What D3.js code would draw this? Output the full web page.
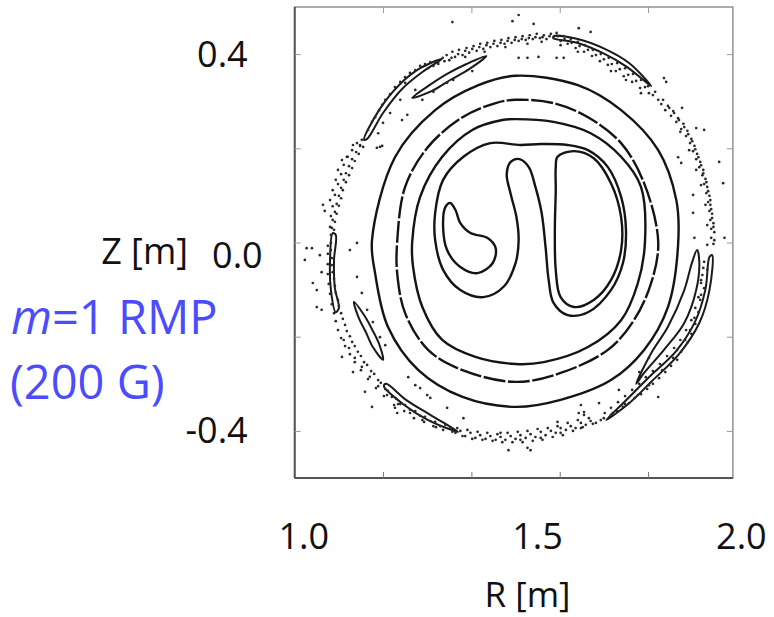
<!DOCTYPE html>
<html><head><meta charset="utf-8">
<script src="https://cdn.jsdelivr.net/npm/d3@7"></script>
<style>body{margin:0;background:#fff}svg{display:block}</style>
</head><body><svg id="c" width="774" height="617"></svg>
<script>
// ---- axes data ----
const rTicks = [1.2, 1.4, 1.6, 1.8];
const zTicks = [-0.4, -0.2, 0.0, 0.2, 0.4];
const rLabels = [1.0, 1.5, 2.0];
const zLabels = [0.4, 0.0, -0.4];
const frameR = [1.0, 1.992];
const frameZ = [-0.5, 0.5];

// ---- closed flux surfaces (R [m], Z [m]) ----
const ringA = [[1.175,0.005],[1.182,-0.065],[1.211,-0.179],[1.280,-0.271],[1.380,-0.328],[1.500,-0.349],[1.602,-0.334],[1.716,-0.292],[1.791,-0.228],[1.845,-0.137],[1.868,-0.005],[1.864,0.090],[1.823,0.196],[1.739,0.281],[1.641,0.334],[1.500,0.354],[1.416,0.334],[1.318,0.281],[1.227,0.181]];
const ringB = [[1.232,0.001],[1.232,-0.065],[1.250,-0.150],[1.302,-0.228],[1.380,-0.271],[1.500,-0.296],[1.602,-0.277],[1.709,-0.228],[1.768,-0.165],[1.807,-0.086],[1.823,0.001],[1.791,0.126],[1.739,0.211],[1.664,0.266],[1.586,0.296],[1.500,0.303],[1.455,0.296],[1.380,0.266],[1.302,0.203],[1.250,0.118]];
const ringC = [[1.266,0.001],[1.268,-0.052],[1.289,-0.137],[1.334,-0.207],[1.409,-0.243],[1.500,-0.258],[1.564,-0.254],[1.664,-0.222],[1.739,-0.165],[1.777,-0.086],[1.793,0.001],[1.784,0.118],[1.739,0.182],[1.670,0.232],[1.586,0.256],[1.500,0.262],[1.470,0.260],[1.402,0.239],[1.334,0.182],[1.284,0.097]];
const separatrix = [[1.443,0.211],[1.511,0.207],[1.557,0.209],[1.618,0.207],[1.664,0.196],[1.709,0.160],[1.739,0.097],[1.750,0.027],[1.743,-0.044],[1.716,-0.101],[1.664,-0.148],[1.618,-0.154],[1.586,-0.128],[1.575,-0.080],[1.568,-0.010],[1.559,0.063],[1.545,0.118],[1.530,0.160],[1.509,0.177],[1.489,0.171],[1.480,0.145],[1.489,0.103],[1.502,0.054],[1.507,0.005],[1.500,-0.044],[1.473,-0.094],[1.427,-0.116],[1.375,-0.101],[1.336,-0.058],[1.318,0.005],[1.318,0.063],[1.336,0.133],[1.382,0.182]];
const innerD = [[1.595,0.182],[1.632,0.194],[1.677,0.179],[1.716,0.126],[1.739,0.054],[1.739,-0.016],[1.716,-0.080],[1.677,-0.122],[1.632,-0.137],[1.602,-0.116],[1.591,-0.058],[1.589,0.027],[1.591,0.111],[1.591,0.160]];
const kidney = [[1.352,0.084],[1.364,0.069],[1.375,0.041],[1.398,0.020],[1.436,0.010],[1.455,-0.012],[1.448,-0.044],[1.414,-0.065],[1.375,-0.052],[1.345,-0.016],[1.336,0.033],[1.341,0.075]];

// ---- edge islands ----
const islandTL = [[1.266,0.307],[1.305,0.334],[1.345,0.358],[1.389,0.379],[1.434,0.396],[1.395,0.368],[1.352,0.345],[1.311,0.322]];
const islandBL = [[1.134,-0.126],[1.157,-0.154],[1.175,-0.184],[1.191,-0.215],[1.200,-0.249],[1.177,-0.222],[1.161,-0.190],[1.145,-0.160]];
const arcTL = [[1.157,0.218],[1.191,0.281],[1.236,0.334],[1.284,0.370],[1.334,0.390],[1.289,0.362],[1.243,0.326],[1.200,0.275],[1.164,0.220]];
const arcTR = [[1.586,0.438],[1.641,0.432],[1.702,0.411],[1.757,0.381],[1.807,0.332],[1.752,0.373],[1.698,0.402],[1.639,0.424],[1.586,0.434]];
const arcR1 = [[1.911,-0.016],[1.916,-0.041],[1.909,-0.101],[1.882,-0.171],[1.836,-0.228],[1.791,-0.277],[1.773,-0.300],[1.807,-0.235],[1.845,-0.179],[1.882,-0.101],[1.900,-0.041]];
const arcR2 = [[1.945,-0.027],[1.939,-0.101],[1.916,-0.171],[1.870,-0.237],[1.809,-0.294],[1.755,-0.343],[1.705,-0.377],[1.748,-0.337],[1.802,-0.286],[1.864,-0.230],[1.907,-0.167],[1.930,-0.099],[1.939,-0.031]];
const arcL = [[1.086,0.020],[1.080,-0.037],[1.082,-0.101],[1.093,-0.148],[1.100,-0.139],[1.091,-0.097],[1.089,-0.037],[1.093,0.016]];
const arcBL = [[1.202,-0.305],[1.248,-0.345],[1.302,-0.377],[1.370,-0.402],[1.307,-0.366],[1.252,-0.334],[1.207,-0.300]];

// ---- stochastic edge points ----
const chaosTop = [[1.325,0.383],[1.335,0.392],[1.344,0.398],[1.350,0.387],[1.357,0.405],[1.363,0.394],[1.372,0.409],[1.380,0.398],[1.389,0.413],[1.395,0.403],[1.405,0.417],[1.412,0.407],[1.420,0.422],[1.427,0.411],[1.436,0.424],[1.443,0.415],[1.452,0.428],[1.459,0.417],[1.468,0.430],[1.475,0.422],[1.484,0.434],[1.491,0.424],[1.500,0.436],[1.507,0.428],[1.516,0.438],[1.523,0.430],[1.532,0.440],[1.539,0.432],[1.548,0.443],[1.555,0.434],[1.564,0.440],[1.570,0.432],[1.580,0.443],[1.586,0.434],[1.595,0.438],[1.602,0.428],[1.611,0.432],[1.618,0.422],[1.627,0.424],[1.636,0.413],[1.645,0.417],[1.655,0.405],[1.664,0.409],[1.673,0.396],[1.682,0.398],[1.691,0.385],[1.700,0.389],[1.709,0.377],[1.718,0.379],[1.727,0.364],[1.736,0.368],[1.745,0.353],[1.755,0.356],[1.764,0.341],[1.773,0.343],[1.782,0.328],[1.793,0.330],[1.802,0.317],[1.811,0.313],[1.823,0.303],
[1.339,0.385],[1.355,0.392],[1.370,0.400],[1.386,0.407],[1.402,0.411],[1.418,0.415],[1.434,0.419],[1.450,0.422],[1.466,0.424],[1.482,0.428],[1.498,0.430],[1.514,0.432],[1.530,0.434],[1.545,0.436],[1.561,0.436],[1.577,0.438],[1.593,0.445],[1.609,0.438],[1.625,0.432],[1.641,0.426],[1.657,0.419],[1.675,0.409],[1.693,0.400],[1.711,0.392],[1.730,0.381],[1.748,0.370],[1.766,0.358],[1.784,0.345],[1.800,0.332],[1.816,0.320],[1.527,0.422],[1.559,0.426],[1.477,0.415],[1.430,0.405],[1.386,0.394],[1.602,0.419],[1.641,0.405],[1.716,0.364],[1.784,0.317],[1.750,0.345],
[1.357,0.468],[1.493,0.470],[1.507,0.483],[1.541,0.464],[1.643,0.455],[1.670,0.447],[1.507,0.392],[1.527,0.392],[1.552,0.394],[1.593,0.392],[1.609,0.392],[1.402,0.364],[1.359,0.345],[1.345,0.339],[1.314,0.320],[1.289,0.303],[1.255,0.271],[1.243,0.260],[1.836,0.349],[1.841,0.341],[1.877,0.286]];
const chaosRight = [[1.830,0.294],[1.839,0.281],[1.848,0.286],[1.852,0.269],[1.859,0.275],[1.864,0.256],[1.870,0.260],[1.875,0.241],[1.882,0.245],[1.886,0.226],[1.891,0.230],[1.895,0.211],[1.900,0.215],[1.902,0.194],[1.907,0.198],[1.909,0.177],[1.914,0.181],[1.916,0.160],[1.920,0.164],[1.923,0.143],[1.925,0.147],[1.927,0.124],[1.932,0.128],[1.932,0.105],[1.936,0.109],[1.936,0.086],[1.941,0.090],[1.939,0.067],[1.943,0.071],[1.941,0.048],[1.945,0.052],[1.943,0.029],[1.948,0.033],[1.943,0.010],[1.948,-0.003],
[1.834,0.303],[1.845,0.290],[1.857,0.279],[1.868,0.264],[1.880,0.252],[1.889,0.237],[1.898,0.220],[1.905,0.205],[1.911,0.188],[1.918,0.171],[1.925,0.154],[1.930,0.135],[1.934,0.118],[1.939,0.099],[1.941,0.080],[1.945,0.061],[1.948,0.041],[1.950,0.022],[1.950,0.005],[1.934,0.037],[1.930,0.080],[1.920,0.122],[1.909,0.154],[1.893,0.196],[1.873,0.235],
[1.909,0.243],[1.927,0.239],[1.961,0.171],[1.970,0.126],[1.902,0.101],[1.902,0.063],[1.905,0.010],[1.973,0.010],[1.868,0.181],[1.875,0.169],[1.934,-0.005],
[1.927,-0.041],[1.923,-0.069],[1.927,-0.097],[1.918,-0.122],[1.914,-0.148],[1.907,-0.173],[1.898,-0.194],[1.889,-0.213],[1.875,-0.232],[1.866,-0.249],[1.852,-0.262],[1.839,-0.275],[1.825,-0.288],[1.811,-0.300],[1.798,-0.311],[1.784,-0.322],[1.770,-0.330],[1.757,-0.341],[1.743,-0.349],[1.730,-0.358],[1.716,-0.366],[1.920,-0.111],[1.905,-0.160],[1.884,-0.207],[1.857,-0.245],[1.832,-0.271],[1.802,-0.303],[1.777,-0.324],[1.748,-0.343],[1.720,-0.362],[1.895,-0.186],[1.866,-0.228],
[1.925,-0.054],[1.920,-0.086],[1.914,-0.116],[1.907,-0.139],[1.898,-0.165],[1.886,-0.186],[1.873,-0.207],[1.859,-0.224],[1.843,-0.241],[1.827,-0.258],[1.811,-0.273],[1.795,-0.286],[1.780,-0.300],[1.764,-0.313],[1.748,-0.326],[1.732,-0.339],[1.716,-0.351],[1.702,-0.362],
[1.823,-0.328],[1.780,-0.275],[1.802,-0.245],[1.734,-0.313],[1.689,-0.341],[1.655,-0.360],[1.643,-0.362],[1.920,-0.080],[1.934,-0.058]];
const chaosBottom = [[1.693,-0.377],[1.682,-0.383],[1.670,-0.379],[1.659,-0.387],[1.648,-0.383],[1.636,-0.394],[1.625,-0.390],[1.614,-0.398],[1.602,-0.394],[1.591,-0.404],[1.580,-0.400],[1.568,-0.409],[1.557,-0.402],[1.545,-0.413],[1.534,-0.407],[1.523,-0.415],[1.511,-0.409],[1.500,-0.417],[1.489,-0.411],[1.477,-0.419],[1.466,-0.413],[1.455,-0.419],[1.443,-0.411],[1.432,-0.417],[1.420,-0.409],[1.409,-0.415],[1.398,-0.404],[1.386,-0.411],[1.375,-0.400],[1.364,-0.404],[1.557,-0.415],[1.511,-0.419],[1.466,-0.404],[1.602,-0.404],[1.648,-0.394],
[1.700,-0.373],[1.675,-0.385],[1.652,-0.392],[1.630,-0.400],[1.607,-0.409],[1.584,-0.413],[1.561,-0.419],[1.539,-0.421],[1.516,-0.424],[1.493,-0.424],[1.470,-0.424],[1.448,-0.421],[1.425,-0.419],[1.402,-0.417],[1.380,-0.411],[1.368,-0.394],[1.391,-0.398],[1.414,-0.402],[1.436,-0.404],[1.459,-0.407],[1.482,-0.404],[1.505,-0.402],[1.527,-0.400],[1.550,-0.396],[1.573,-0.394],[1.595,-0.390],[1.618,-0.383],[1.641,-0.377],[1.666,-0.373],
[1.484,-0.441],[1.527,-0.436],[1.534,-0.441],[1.345,-0.351],[1.382,-0.373],[1.595,-0.381],[1.655,-0.366],[1.648,-0.345]];
const chaosLeft = [[1.352,-0.394],[1.341,-0.387],[1.330,-0.390],[1.318,-0.381],[1.307,-0.379],[1.295,-0.370],[1.284,-0.368],[1.273,-0.358],[1.261,-0.355],[1.250,-0.345],[1.239,-0.343],[1.230,-0.332],[1.220,-0.328],[1.211,-0.315],[1.205,-0.311],[1.195,-0.298],[1.189,-0.292],[1.180,-0.279],[1.173,-0.273],[1.164,-0.260],[1.157,-0.254],[1.150,-0.241],[1.143,-0.232],[1.136,-0.220],[1.130,-0.211],[1.125,-0.199],[1.118,-0.188],[1.114,-0.175],[1.109,-0.162],[1.105,-0.150],[1.100,-0.135],[1.098,-0.122],[1.093,-0.107],[1.091,-0.092],[1.089,-0.077],[1.086,-0.063],[1.084,-0.048],[1.084,-0.033],[1.082,-0.016],[1.082,-0.001],[1.111,-0.207],[1.123,-0.224],[1.136,-0.245],[1.152,-0.264],[1.170,-0.285],[1.189,-0.305],[1.209,-0.324],[1.234,-0.343],[1.261,-0.362],[1.289,-0.377],[1.320,-0.392],
[1.357,-0.402],[1.336,-0.398],[1.314,-0.390],[1.293,-0.381],[1.270,-0.373],[1.248,-0.358],[1.225,-0.345],[1.202,-0.326],[1.184,-0.309],[1.166,-0.290],[1.150,-0.271],[1.136,-0.254],[1.125,-0.237],[1.114,-0.220],[1.105,-0.203],[1.098,-0.186],[1.093,-0.167],[1.089,-0.150],[1.084,-0.131],[1.080,-0.109],[1.077,-0.088],[1.075,-0.067],[1.075,-0.046],[1.075,-0.024],[1.075,-0.007],
[1.039,-0.012],[1.027,-0.012],[1.057,-0.027],[1.023,-0.037],[1.061,-0.063],[1.041,-0.086],[1.050,-0.101],[1.050,-0.137],[1.061,-0.143],[1.107,-0.243],[1.132,-0.275],[1.159,-0.317],[1.175,-0.349],[1.227,-0.351],[1.232,-0.362],[1.141,-0.073],[1.152,-0.107],[1.164,-0.143],[1.177,-0.169],[1.193,-0.201],[1.205,-0.218],[1.257,-0.286],[1.273,-0.303],[1.284,-0.309],[1.300,-0.324],[1.307,-0.330],[1.125,-0.016],[1.141,-0.001],
[1.082,0.016],[1.084,0.031],[1.089,0.027],[1.086,0.048],[1.091,0.044],[1.091,0.065],[1.095,0.061],[1.095,0.082],[1.100,0.078],[1.100,0.099],[1.105,0.094],[1.105,0.116],[1.109,0.111],[1.111,0.133],[1.116,0.128],[1.116,0.147],[1.123,0.143],[1.123,0.162],[1.130,0.158],[1.130,0.177],[1.136,0.173],[1.139,0.192],[1.145,0.188],[1.148,0.205],[1.155,0.203],
[1.080,0.033],[1.082,0.056],[1.086,0.077],[1.091,0.101],[1.098,0.124],[1.105,0.145],[1.111,0.165],[1.120,0.182],[1.130,0.196],[1.141,0.211],[1.152,0.218],[1.107,0.175],[1.098,0.154],[1.093,0.133],[1.086,0.111],[1.080,0.090],
[1.068,0.067],[1.118,0.182],[1.132,0.207],[1.148,0.207],[1.193,0.203],[1.186,0.201],[1.198,0.205],[1.064,0.080],
[1.166,0.239],[1.175,0.256],[1.182,0.266],[1.191,0.281],[1.198,0.292],[1.205,0.303],[1.216,0.315],[1.227,0.330],[1.239,0.341],[1.250,0.351],[1.261,0.360],[1.273,0.366],[1.284,0.375],[1.295,0.379],[1.307,0.383],[1.318,0.385],[1.302,0.370],[1.314,0.375],[1.325,0.379],[1.250,0.339],[1.273,0.324],[1.239,0.303],[1.216,0.275],[1.200,0.254],[1.189,0.232]];

// ---- drawing ----
const svg = d3.select('#c');
const x = d3.scaleLinear().domain([1.0, 2.0]).range([294.7, 736.4]);
const y = d3.scaleLinear().domain([-0.5, 0.5]).range([478, 7]);
const FONT = "'Open Sans', 'DejaVu Sans', sans-serif";

// frame
const fx0 = x(frameR[0]), fx1 = x(frameR[1]), fy0 = y(frameZ[1]), fy1 = y(frameZ[0]);
svg.append('rect').attr('x', fx0).attr('y', fy0).attr('width', fx1 - fx0).attr('height', fy1 - fy0)
  .attr('fill', 'none').attr('stroke', '#8a8a8a').attr('stroke-width', 1.4);
svg.append('line').attr('x1', fx0).attr('x2', fx0).attr('y1', fy0).attr('y2', fy1).attr('stroke', '#555').attr('stroke-width', 2);
svg.append('line').attr('x1', fx0).attr('x2', fx1).attr('y1', fy1).attr('y2', fy1).attr('stroke', '#555').attr('stroke-width', 2);

// inner ticks (all four sides) via d3 axes
const tk = 6;
svg.append('g').attr('transform', `translate(0,${fy1})`)
  .call(d3.axisTop(x).tickValues(rTicks).tickSize(tk).tickFormat(''))
  .call(g => g.select('.domain').remove()).call(g => g.selectAll('line').attr('stroke', '#777'));
svg.append('g').attr('transform', `translate(0,${fy0})`)
  .call(d3.axisBottom(x).tickValues(rTicks).tickSize(tk).tickFormat(''))
  .call(g => g.select('.domain').remove()).call(g => g.selectAll('line').attr('stroke', '#999'));
svg.append('g').attr('transform', `translate(${fx0},0)`)
  .call(d3.axisRight(y).tickValues(zTicks).tickSize(tk).tickFormat(''))
  .call(g => g.select('.domain').remove()).call(g => g.selectAll('line').attr('stroke', '#999'));
svg.append('g').attr('transform', `translate(${fx1},0)`)
  .call(d3.axisLeft(y).tickValues(zTicks).tickSize(tk).tickFormat(''))
  .call(g => g.select('.domain').remove()).call(g => g.selectAll('line').attr('stroke', '#999'));

// curves
const closed = d3.line().x(d => x(d[0])).y(d => y(d[1])).curve(d3.curveCatmullRomClosed.alpha(0.5));
const mainCurves = [ringA, ringB, ringC, separatrix, innerD, kidney];
const g = svg.append('g');
mainCurves.forEach(c => {
  g.append('path').attr('d', closed(c)).attr('fill', 'none').attr('stroke', '#141414')
    .attr('stroke-width', 2.4).attr('stroke-linejoin', 'round')
    .attr('stroke-dasharray', c === ringB ? '22 2.5' : null);
});
const islands = [islandTL, islandBL, arcTL, arcTR, arcR1, arcR2, arcL, arcBL];
islands.forEach(c => {
  g.append('path').attr('d', closed(c)).attr('fill', 'none').attr('stroke', '#1a1a1a')
    .attr('stroke-width', 2).attr('stroke-linejoin', 'round');
});

// chaotic points
const chaos = [].concat(chaosTop, chaosRight, chaosBottom, chaosLeft);
g.selectAll('circle.p').data(chaos).enter().append('circle')
  .attr('cx', d => x(d[0])).attr('cy', d => y(d[1])).attr('r', 1.35).attr('fill', '#2a2a2a');

// tick labels
svg.selectAll('text.zl').data(zLabels).enter().append('text')
  .attr('x', d => x(1.0) - 47 + (d === 0 ? 15 : 0))
  .attr('y', d => y(d) + 12.5 + (d === 0 ? 13 : 0))
  .attr('text-anchor', 'end').attr('font-family', FONT).attr('font-size', 36).attr('fill', '#111')
  .text(d => d.toFixed(1));
const rShift = {1: 9, 1.5: 22, 2: 5};
svg.selectAll('text.rl').data(rLabels).enter().append('text')
  .attr('x', d => x(d) + rShift[d]).attr('y', 549)
  .attr('text-anchor', 'middle').attr('font-family', FONT).attr('font-size', 36).attr('fill', '#111')
  .text(d => d.toFixed(1));

// axis titles
svg.append('text').attr('x', x(1.5) + 12).attr('y', 607).attr('text-anchor', 'middle')
  .attr('font-family', FONT).attr('font-size', 35).attr('fill', '#111').text('R [m]');
svg.append('text').attr('x', 188).attr('y', 264).attr('text-anchor', 'end')
  .attr('font-family', FONT).attr('font-size', 36).attr('fill', '#111').text('Z [m]');

// blue annotation
const blue = '#4c4cff';
const t1 = svg.append('text').attr('x', 11).attr('y', 334).attr('font-family', FONT).attr('font-size', 47).attr('fill', blue);
t1.append('tspan').attr('font-style', 'italic').text('m');
t1.append('tspan').text('=1 RMP');
svg.append('text').attr('x', 10).attr('y', 399).attr('font-family', FONT).attr('font-size', 47).attr('fill', blue).text('(200 G)');
</script>
</body></html>
